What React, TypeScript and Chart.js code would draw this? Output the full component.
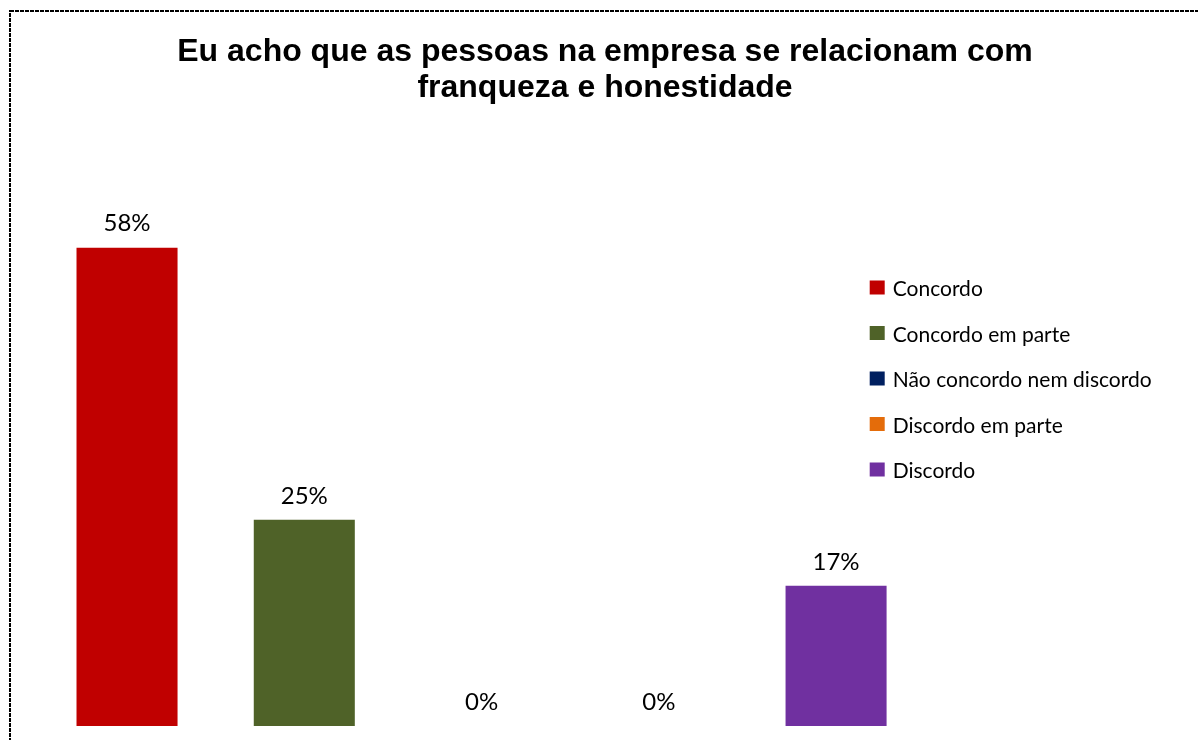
import React, { useEffect, useRef } from "react";
import { Chart, registerables } from "chart.js";

Chart.register(...registerables);

const categories = [
  "Concordo",
  "Concordo em parte",
  "Não concordo nem discordo",
  "Discordo em parte",
  "Discordo",
];
const values = [58, 25, 0, 0, 17];
const colors = ["#C00000", "#4F6228", "#002060", "#E46C0A", "#7030A0"];
const titleLines = [
  "Eu acho que as pessoas na empresa se relacionam com",
  "franqueza e honestidade",
];

const W = 1198;
const H = 740;

export default function App() {
  const ref = useRef<HTMLCanvasElement | null>(null);

  useEffect(() => {
    const canvas = ref.current;
    if (!canvas) return;

    const borderPlugin = {
      id: "frameBorder",
      beforeDraw(chart: any) {
        const ctx = chart.ctx;
        ctx.save();
        ctx.fillStyle = "#ffffff";
        ctx.fillRect(0, 0, chart.width, chart.height);
        ctx.strokeStyle = "#000000";
        ctx.lineWidth = 2;
        ctx.setLineDash([4, 1]);
        ctx.strokeRect(10, 11, chart.width + 20, chart.height + 20);
        ctx.restore();
      },
    };

    const labelPlugin = {
      id: "valueLabels",
      afterDatasetsDraw(chart: any) {
        const ctx = chart.ctx;
        const meta = chart.getDatasetMeta(0);
        ctx.save();
        ctx.font = "24px Lato";
        ctx.fillStyle = "#000000";
        ctx.textAlign = "center";
        ctx.textBaseline = "middle";
        meta.data.forEach((bar: any, i: number) => {
          ctx.fillText(values[i] + "%", bar.x, bar.y - 24);
        });
        ctx.restore();
      },
    };

    const legendPlugin = {
      id: "sideLegend",
      afterDraw(chart: any) {
        const ctx = chart.ctx;
        const x0 = chart.chartArea.right - 55;
        ctx.save();
        ctx.font = "21px Lato";
        ctx.textBaseline = "middle";
        ctx.textAlign = "left";
        categories.forEach((c, i) => {
          const cy = 287.5 + i * 45.5;
          ctx.fillStyle = colors[i];
          ctx.fillRect(x0, cy - 7, 15, 14);
          ctx.fillStyle = "#000000";
          ctx.fillText(c, x0 + 23, cy + 2);
        });
        ctx.restore();
      },
    };

    const chart = new Chart(canvas, {
      type: "bar",
      data: {
        labels: categories,
        datasets: [
          {
            data: values,
            backgroundColor: colors,
            borderWidth: 0,
            categoryPercentage: 1,
            barPercentage: 0.57,
          },
        ],
      },
      options: {
        responsive: false,
        animation: false,
        devicePixelRatio: 1,
        layout: { padding: { left: 12, right: 0, top: 0, bottom: 14 } },
        plugins: {
          legend: { display: false },
          tooltip: { enabled: false },
          title: {
            display: true,
            text: titleLines,
            color: "#000000",
            font: { family: "'Liberation Sans', Arial", size: 32, weight: "bold", lineHeight: 1.12 },
            padding: { top: 34, bottom: 43 },
          },
        },
        scales: {
          x: { display: false },
          y: {
            display: true,
            position: "left",
            min: 0,
            max: 70,
            grid: { display: false },
            border: { display: false },
            ticks: { display: false },
            afterFit: (s: any) => {
              s.width = 26.4;
            },
          },
          yR: {
            type: "linear",
            display: true,
            position: "right",
            grid: { display: false },
            border: { display: false },
            ticks: { display: false },
            afterFit: (s: any) => {
              s.width = 273.3;
            },
          },
        },
      },
      plugins: [borderPlugin, labelPlugin, legendPlugin],
    } as any);

    return () => chart.destroy();
  }, []);

  return (
    <div style={{ position: "fixed", left: 0, top: 0, width: W, height: H, overflow: "hidden", background: "#fff" }}>
      <canvas ref={ref} width={W} height={H} style={{ display: "block", width: W, height: H }} />
    </div>
  );
}
